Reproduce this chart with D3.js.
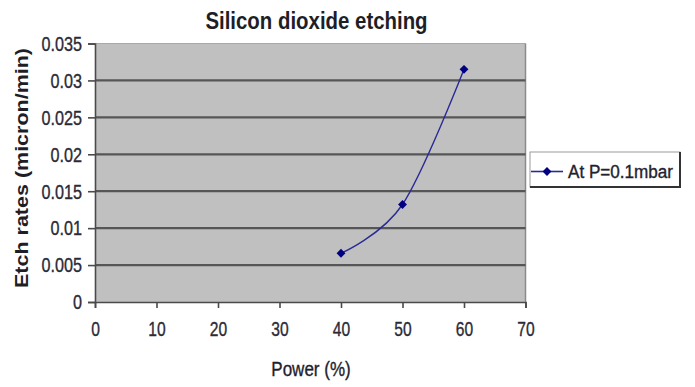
<!DOCTYPE html>
<html>
<head>
<meta charset="utf-8">
<script src="https://cdn.jsdelivr.net/npm/d3@7"></script>
<style>
  html, body { margin: 0; padding: 0; background: #fff; }
  svg { display: block; font-family: "Liberation Sans", Arial, sans-serif; }
</style>
</head>
<body>
<svg id="chart" width="695" height="387"></svg>
<script>
// Etch rate measurements at P = 0.1 mbar
const power = [40, 50, 60];                 // Power (%)
const etchRate = [0.0066, 0.0132, 0.0315];  // micron/min
const seriesName = "At P=0.1mbar";

const xTicks = [0, 10, 20, 30, 40, 50, 60, 70];
const yTicks = [0, 0.005, 0.01, 0.015, 0.02, 0.025, 0.03, 0.035];

const chartTitle = "Silicon dioxide etching";
const xTitle = "Power (%)";
const yTitle = "Etch rates (micron/min)";

const svg = d3.select("#chart");
const plot = { left: 95, right: 525.5, top: 43.5, bottom: 302 };

const x = d3.scaleLinear().domain([0, 70]).range([plot.left, plot.right]);
const y = d3.scaleLinear().domain([0, 0.035]).range([plot.bottom, plot.top]);

// squeeze text horizontally to a fraction of its natural width
function condense(sel, k) {
  sel.each(function () {
    const w = this.getComputedTextLength();
    d3.select(this).attr("textLength", w * k).attr("lengthAdjust", "spacingAndGlyphs");
  });
}
// slightly heavier strokes for regular-weight labels
function heavy(sel, c) {
  sel.attr("stroke", c).attr("stroke-width", 0.35);
}

// plot area
svg.append("rect")
  .attr("x", plot.left).attr("y", plot.top)
  .attr("width", plot.right - plot.left).attr("height", plot.bottom - plot.top)
  .attr("fill", "#c0c0c0");

// top & right frame
svg.append("line").attr("x1", plot.left).attr("x2", plot.right)
  .attr("y1", plot.top).attr("y2", plot.top)
  .attr("stroke", "#a8a8a8").attr("stroke-width", 1.2);
svg.append("line").attr("x1", plot.right).attr("x2", plot.right)
  .attr("y1", plot.top).attr("y2", plot.bottom)
  .attr("stroke", "#8a8a8a").attr("stroke-width", 1.5);

// horizontal gridlines
svg.append("g").selectAll("line")
  .data(yTicks.filter(d => d > 0 && d < 0.035))
  .join("line")
  .attr("x1", plot.left).attr("x2", plot.right)
  .attr("y1", d => y(d)).attr("y2", d => y(d))
  .attr("stroke", "#565656").attr("stroke-width", 2.2);

// y axis
const yAxis = svg.append("g")
  .attr("transform", `translate(${plot.left},0)`)
  .call(d3.axisLeft(y).tickValues(yTicks).tickSize(7).tickPadding(6)
    .tickFormat(d => d === 0 ? "0" : String(+d.toFixed(3))));
yAxis.select(".domain").attr("stroke", "#4a4a4a").attr("stroke-width", 1.6);
yAxis.selectAll(".tick line").attr("stroke", "#4a4a4a").attr("stroke-width", 1.6);
yAxis.selectAll("text")
  .attr("fill", "#2b2b38").attr("font-size", 19.5)
  .attr("font-family", "Liberation Sans, Arial, sans-serif")
  .attr("dy", "0.35em")
  .call(heavy, "#2b2b38")
  .call(condense, 0.83);

// x axis
const xAxis = svg.append("g")
  .attr("transform", `translate(0,${plot.bottom})`)
  .call(d3.axisBottom(x).tickValues(xTicks).tickSize(6).tickPadding(14)
    .tickFormat(d3.format("d")));
xAxis.select(".domain").attr("stroke", "#4a4a4a").attr("stroke-width", 1.6);
xAxis.selectAll(".tick line").attr("stroke", "#4a4a4a").attr("stroke-width", 1.6);
xAxis.selectAll("text")
  .attr("fill", "#2b2b38").attr("font-size", 20)
  .attr("font-family", "Liberation Sans, Arial, sans-serif")
  .call(heavy, "#2b2b38")
  .call(condense, 0.78);

// series line (smoothed) and diamond markers
const pts = power.map((p, i) => [p, etchRate[i]]);
const line = d3.line()
  .x(d => x(d[0])).y(d => y(d[1]))
  .curve(d3.curveCardinal.tension(0));
svg.append("path")
  .datum(pts)
  .attr("d", line)
  .attr("fill", "none")
  .attr("stroke", "#2a2a96").attr("stroke-width", 1.4);

const diamond = d3.symbol().type(d3.symbolDiamond2).size(50);
svg.append("g").selectAll("path")
  .data(pts)
  .join("path")
  .attr("transform", d => `translate(${x(d[0])},${y(d[1])})`)
  .attr("d", diamond)
  .attr("fill", "#000080");

// chart title
svg.append("text")
  .attr("x", 316.5).attr("y", 29)
  .attr("text-anchor", "middle")
  .attr("font-size", 24).attr("font-weight", "bold")
  .attr("fill", "#1e1e26")
  .text(chartTitle)
  .call(condense, 0.85);

// axis titles
svg.append("text")
  .attr("x", 311).attr("y", 376)
  .attr("text-anchor", "middle")
  .attr("font-size", 20).attr("fill", "#1e1e2e")
  .call(heavy, "#1e1e2e")
  .text(xTitle)
  .call(condense, 0.85);

svg.append("text")
  .attr("transform", "translate(28,168) scale(0.84,1) rotate(-90)")
  .attr("text-anchor", "middle")
  .attr("font-size", 21.5).attr("font-weight", "bold")
  .attr("fill", "#1e1e26")
  .text(yTitle);

// legend
const lg = svg.append("g").attr("transform", "translate(530,152)");
lg.append("rect")
  .attr("width", 150).attr("height", 35)
  .attr("fill", "#fff")
  .attr("stroke", "#9a9a9a").attr("stroke-width", 1);
lg.append("path")
  .attr("d", "M150,0V35H0")
  .attr("fill", "none").attr("stroke", "#333").attr("stroke-width", 2);
lg.append("line")
  .attr("x1", 1).attr("x2", 33).attr("y1", 19.5).attr("y2", 19.5)
  .attr("stroke", "#2a2a96").attr("stroke-width", 1.6);
lg.append("path")
  .attr("transform", "translate(17,19.5)")
  .attr("d", diamond)
  .attr("fill", "#000080");
lg.append("text")
  .attr("x", 38).attr("y", 26)
  .attr("font-size", 18).attr("fill", "#22222e")
  .call(heavy, "#22222e")
  .text(seriesName)
  .call(condense, 0.95);
</script>
</body>
</html>
